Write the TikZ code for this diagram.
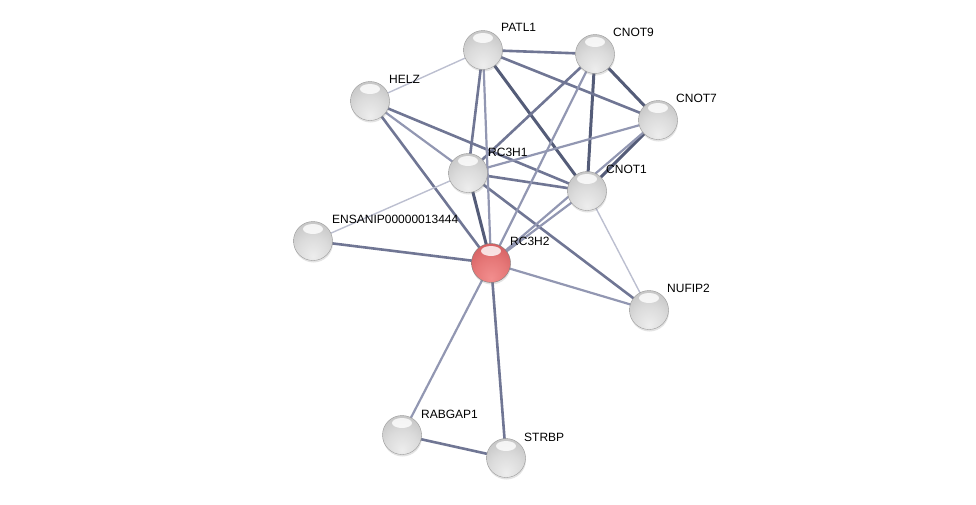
\documentclass[tikz,border=0pt]{standalone}
\usepackage{fontspec}
\setmainfont{Liberation Sans}
\usetikzlibrary{backgrounds, shadows}

\definecolor{edgestrong}{RGB}{84,92,120}
\definecolor{edgemid}{RGB}{112,118,148}
\definecolor{edgeweak}{RGB}{146,151,178}
\definecolor{edgefaint}{RGB}{188,191,208}

% glass-like spheres, lit from above
\pgfdeclareradialshading{greysphere}{\pgfpoint{0bp}{-20bp}}{%
  color(0bp)=(white!93!black); color(20bp)=(white!86!black); color(35bp)=(white!78!black);
  color(50bp)=(white!72!black); color(62bp)=(white!60!black); color(75bp)=(white!52!black)}
\pgfdeclareradialshading{redsphere}{\pgfpoint{0bp}{-20bp}}{%
  color(0bp)=(rgb,255:red,242;green,142;blue,142); color(20bp)=(rgb,255:red,230;green,120;blue,120);
  color(35bp)=(rgb,255:red,214;green,98;blue,100); color(50bp)=(rgb,255:red,198;green,82;blue,84);
  color(62bp)=(rgb,255:red,170;green,60;blue,62); color(75bp)=(rgb,255:red,150;green,48;blue,50)}

\tikzset{
  protein/.style={circle, minimum size=39pt, inner sep=0pt, draw=black!40, line width=0.4pt,
    shading=greysphere, drop shadow={opacity=0.22, shadow xshift=0.5pt, shadow yshift=-2pt},
    path picture={\fill[white, opacity=0.8] ([yshift=12pt]path picture bounding box.center) ellipse (10pt and 5pt);}},
  query/.style={protein, shading=redsphere, draw=black!50},
  tag/.style={anchor=west, font=\fontsize{12}{14}\selectfont, inner sep=0pt},
  linkA/.style={draw=edgestrong, line width=3pt},
  linkB/.style={draw=edgemid, line width=2.6pt},
  linkC/.style={draw=edgeweak, line width=2.2pt},
  linkD/.style={draw=edgefaint, line width=1.4pt}
}

\begin{document}
\begin{tikzpicture}[x=1pt, y=-1pt]

  % frame of the image
  \useasboundingbox (0,0) rectangle (976,504);

  % proteins
  \node[protein] (patl1) at (483,50) {};
  \node[protein] (cnot9) at (595,54) {};
  \node[protein] (helz) at (370,101) {};
  \node[protein] (cnot7) at (658,120) {};
  \node[protein] (rc3h1) at (468,173) {};
  \node[protein] (cnot1) at (587,191) {};
  \node[protein] (ensanip) at (313,241) {};
  \node[query] (rc3h2) at (491,263) {};
  \node[protein] (nufip2) at (649,310) {};
  \node[protein] (rabgap1) at (402,435) {};
  \node[protein] (strbp) at (506,458) {};

  % names
  \node[tag] (patl1-tag) at (501,27) {PATL1};
  \node[tag] (cnot9-tag) at (613,32) {CNOT9};
  \node[tag] (helz-tag) at (389,79) {HELZ};
  \node[tag] (cnot7-tag) at (676,98) {CNOT7};
  \node[tag] (rc3h1-tag) at (488,152) {RC3H1};
  \node[tag] (cnot1-tag) at (606,169) {CNOT1};
  \node[tag] (ensanip-tag) at (332,219) {ENSANIP00000013444};
  \node[tag] (rc3h2-tag) at (510,241) {RC3H2};
  \node[tag] (nufip2-tag) at (667,288) {NUFIP2};
  \node[tag] (rabgap1-tag) at (421,414) {RABGAP1};
  \node[tag] (strbp-tag) at (524,437) {STRBP};

  % interactions, behind the proteins
  \begin{scope}[on background layer]
    \foreach \a/\b in {patl1/cnot1, cnot9/cnot7, cnot9/cnot1, cnot7/cnot1, rc3h1/rc3h2}
      \draw[linkA] (\a.center) -- (\b.center);
    \foreach \a/\b in {patl1/cnot9, patl1/cnot7, patl1/rc3h1, cnot9/rc3h1, helz/cnot1,
                       helz/rc3h2, rc3h1/cnot1, rc3h1/nufip2, rc3h2/ensanip, rc3h2/strbp, rabgap1/strbp}
      \draw[linkB] (\a.center) -- (\b.center);
    \foreach \a/\b in {patl1/rc3h2, cnot9/rc3h2, cnot7/rc3h1, cnot7/rc3h2, helz/rc3h1,
                       cnot1/rc3h2, rc3h2/nufip2, rc3h2/rabgap1}
      \draw[linkC] (\a.center) -- (\b.center);
    \foreach \a/\b in {patl1/helz, rc3h1/ensanip, cnot1/nufip2}
      \draw[linkD] (\a.center) -- (\b.center);
  \end{scope}

\end{tikzpicture}
\end{document}
